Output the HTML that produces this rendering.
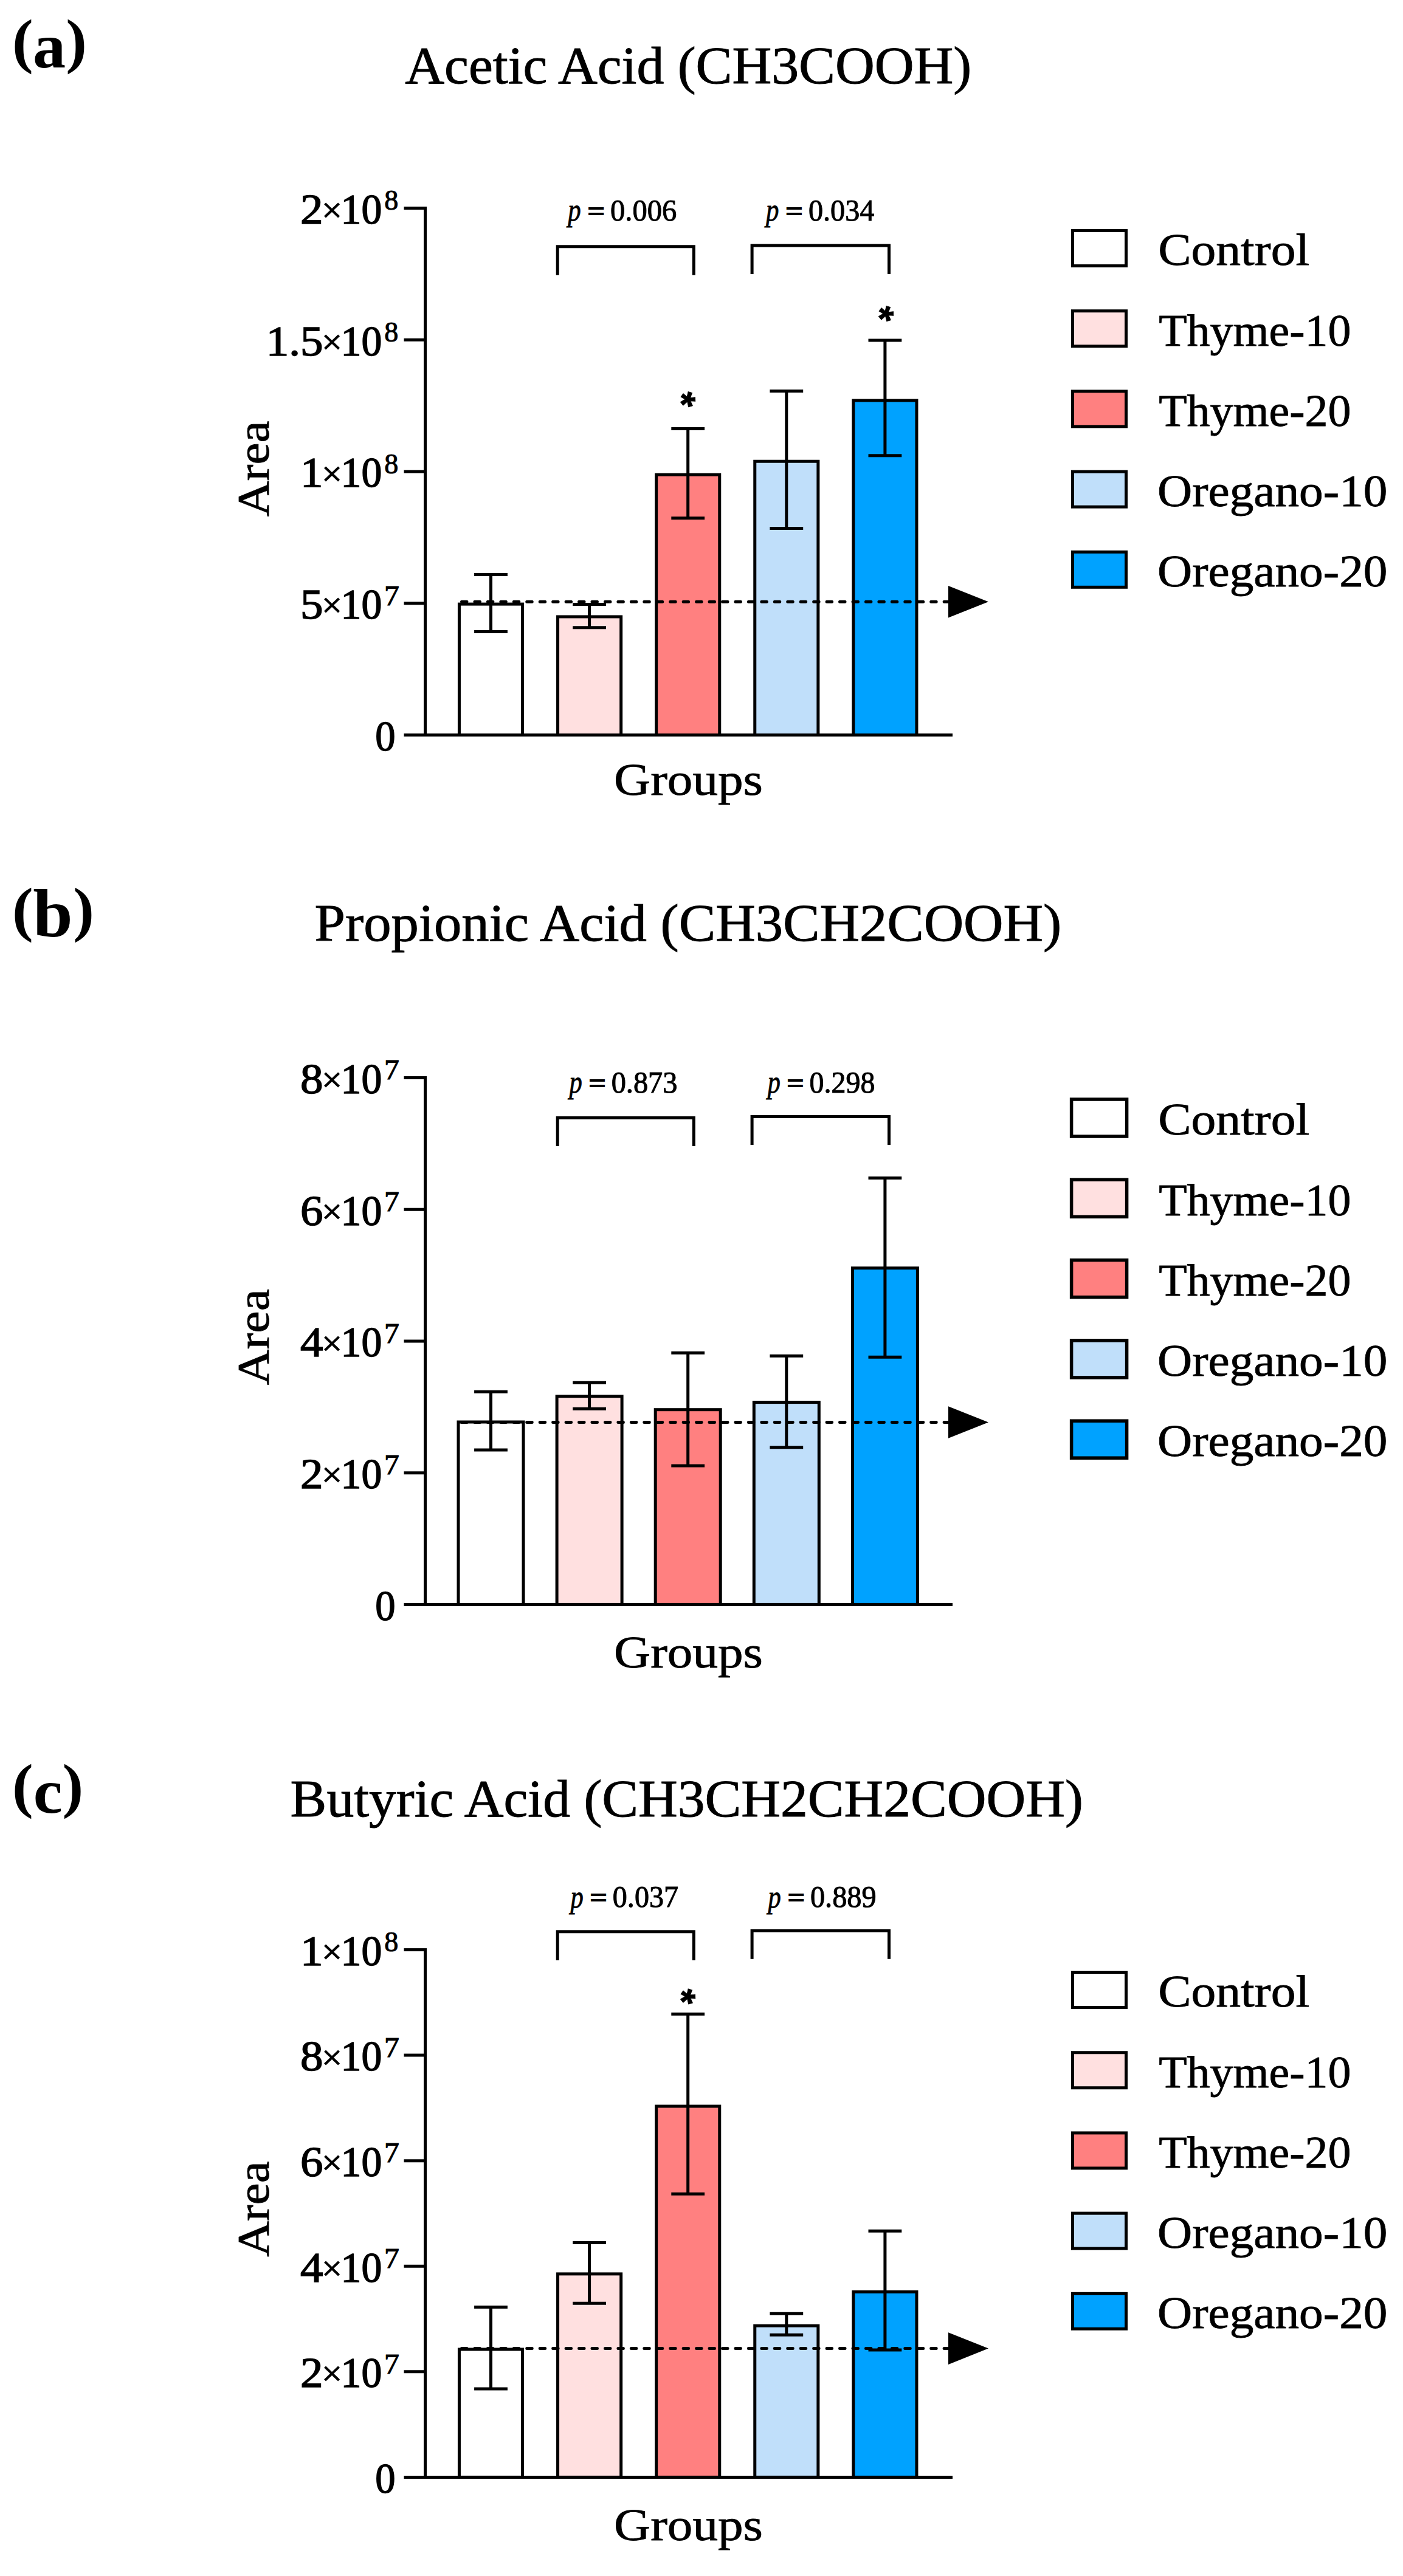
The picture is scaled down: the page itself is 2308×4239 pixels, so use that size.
<!DOCTYPE html>
<html lang="en"><head><meta charset="utf-8"><title>Short-chain fatty acids</title>
<style>html,body{margin:0;padding:0;background:#fff}svg{display:block}text{font-family:"Liberation Serif",serif;fill:#000}</style></head><body>
<svg width="2308" height="4239" viewBox="0 0 2308 4239" shape-rendering="geometricPrecision">
<rect width="2308" height="4239" fill="#fff"/>
<g>
<rect x="755.45" y="994.10" width="104.10" height="215.40" fill="#ffffff" stroke="#000" stroke-width="5"/>
<rect x="917.55" y="1014.90" width="104.10" height="194.60" fill="#ffe0e0" stroke="#000" stroke-width="5"/>
<rect x="1079.65" y="781.10" width="104.10" height="428.40" fill="#ff8080" stroke="#000" stroke-width="5"/>
<rect x="1241.75" y="759.20" width="104.10" height="450.30" fill="#c0dffa" stroke="#000" stroke-width="5"/>
<rect x="1403.85" y="659.00" width="104.10" height="550.50" fill="#00a2ff" stroke="#000" stroke-width="5"/>
<line x1="759.5" y1="990.20" x2="1562" y2="990.20" stroke="#000" stroke-width="5" stroke-dasharray="8.45 13" stroke-linecap="round"/>
<polygon points="1560,963.90 1626,990.20 1560,1016.50" fill="#000"/>
<path d="M780.10 945.60H834.90M780.10 1039.60H834.90M807.50 945.60V1039.60" stroke="#000" stroke-width="5" fill="none"/>
<path d="M942.20 994.40H997.00M942.20 1032.80H997.00M969.60 994.40V1032.80" stroke="#000" stroke-width="5" fill="none"/>
<path d="M1104.30 705.40H1159.10M1104.30 852.50H1159.10M1131.70 705.40V852.50" stroke="#000" stroke-width="5" fill="none"/>
<path d="M1266.40 643.40H1321.20M1266.40 869.50H1321.20M1293.80 643.40V869.50" stroke="#000" stroke-width="5" fill="none"/>
<path d="M1428.50 560.00H1483.30M1428.50 749.70H1483.30M1455.90 560.00V749.70" stroke="#000" stroke-width="5" fill="none"/>
<path d="M699.5 340.10V1212.00M664.5 1209.50H1567" stroke="#000" stroke-width="5" fill="none"/>
<text transform="translate(617.25,1234.80) scale(0.9650,1)" font-size="69" stroke="#000" stroke-width="1.5">0</text>
<line x1="664.5" y1="992.77" x2="699.5" y2="992.77" stroke="#000" stroke-width="5"/>
<text transform="translate(560.52,1018.07) scale(0.9822,1)" font-size="69" stroke="#000" stroke-width="1.5">10</text>
<text transform="translate(529.24,1015.38) scale(0.5951,0.5620)" font-size="100" stroke="#000" stroke-width="2.2">×</text>
<text transform="translate(493.96,1018.07) scale(1.0874,1)" font-size="69" stroke="#000" stroke-width="1.5">5</text>
<text transform="translate(632.06,995.57) scale(1.0830,1)" font-size="46" stroke="#000" stroke-width="1.0">7</text>
<line x1="664.5" y1="776.05" x2="699.5" y2="776.05" stroke="#000" stroke-width="5"/>
<text transform="translate(560.52,801.35) scale(0.9822,1)" font-size="69" stroke="#000" stroke-width="1.5">10</text>
<text transform="translate(529.24,798.66) scale(0.5951,0.5620)" font-size="100" stroke="#000" stroke-width="2.2">×</text>
<text transform="translate(493.96,801.35) scale(1.0874,1)" font-size="69" stroke="#000" stroke-width="1.5">1</text>
<text transform="translate(632.37,778.85) scale(1.0026,1)" font-size="46" stroke="#000" stroke-width="1.0">8</text>
<line x1="664.5" y1="559.33" x2="699.5" y2="559.33" stroke="#000" stroke-width="5"/>
<text transform="translate(560.52,584.62) scale(0.9822,1)" font-size="69" stroke="#000" stroke-width="1.5">10</text>
<text transform="translate(529.24,581.93) scale(0.5951,0.5620)" font-size="100" stroke="#000" stroke-width="2.2">×</text>
<text transform="translate(437.69,584.62) scale(1.0874,1)" font-size="69" stroke="#000" stroke-width="1.5">1.5</text>
<text transform="translate(632.37,562.12) scale(1.0026,1)" font-size="46" stroke="#000" stroke-width="1.0">8</text>
<line x1="664.5" y1="342.60" x2="699.5" y2="342.60" stroke="#000" stroke-width="5"/>
<text transform="translate(560.52,367.90) scale(0.9822,1)" font-size="69" stroke="#000" stroke-width="1.5">10</text>
<text transform="translate(529.24,365.21) scale(0.5951,0.5620)" font-size="100" stroke="#000" stroke-width="2.2">×</text>
<text transform="translate(493.96,367.90) scale(1.0874,1)" font-size="69" stroke="#000" stroke-width="1.5">2</text>
<text transform="translate(632.37,345.40) scale(1.0026,1)" font-size="46" stroke="#000" stroke-width="1.0">8</text>
<path d="M917.20 452.70V405.70H1141.30V452.70" stroke="#000" stroke-width="5" fill="none"/>
<path d="M1237.10 451.00V404.00H1462.50V451.00" stroke="#000" stroke-width="5" fill="none"/>
<text transform="translate(934.21,363.00) scale(0.8066,1)" font-size="53" font-style="italic" stroke="#000" stroke-width="0.9">p</text>
<text transform="translate(966.72,360.70) scale(1.1702,1)" font-size="42" stroke="#000" stroke-width="2.0">=</text>
<text transform="translate(1004.05,362.70) scale(0.9508,1)" font-size="51" stroke="#000" stroke-width="1.0">0.006</text>
<text transform="translate(1260.11,363.00) scale(0.8066,1)" font-size="53" font-style="italic" stroke="#000" stroke-width="0.9">p</text>
<text transform="translate(1292.62,360.70) scale(1.1702,1)" font-size="42" stroke="#000" stroke-width="2.0">=</text>
<text transform="translate(1329.96,362.70) scale(0.9444,1)" font-size="51" stroke="#000" stroke-width="1.0">0.034</text>
<text transform="translate(1131.80,656.90) rotate(17) scale(0.6389) translate(-19.50,50.12)" font-size="100" font-weight="bold" style="font-family:'Liberation Sans',sans-serif" stroke="#000" stroke-width="1.5">*</text>
<text transform="translate(1457.80,516.00) rotate(17) scale(0.6389) translate(-19.50,50.12)" font-size="100" font-weight="bold" style="font-family:'Liberation Sans',sans-serif" stroke="#000" stroke-width="1.5">*</text>
<text transform="translate(1010.08,1308.10) scale(1.1089,1)" font-size="75" stroke="#000" stroke-width="0.82">Groups</text>
<text transform="translate(441.90,850.00) rotate(-90) scale(1.0818,1)" font-size="75" stroke="#000" stroke-width="0.82">Area</text>
<text transform="translate(666.28,136.90) scale(1.0434,1)" font-size="86" stroke="#000" stroke-width="0.95">Acetic Acid (CH3COOH)</text>
<text transform="translate(0,100.76) scale(1.0408,0.9950)" font-size="100" font-weight="bold"><tspan x="19.29">(</tspan><tspan x="51.83" dy="10.50" font-size="104">a</tspan><tspan x="103.98" dy="-10.50">)</tspan></text>
<rect x="1764.50" y="379.50" width="88.00" height="58.00" fill="#ffffff" stroke="#000" stroke-width="5"/>
<text transform="translate(1905.15,436.30) scale(1.0866,1)" font-size="75" stroke="#000" stroke-width="0.82">Control</text>
<rect x="1764.50" y="511.70" width="88.00" height="58.00" fill="#ffe0e0" stroke="#000" stroke-width="5"/>
<text transform="translate(1906.18,568.50) scale(1.0124,1)" font-size="75" stroke="#000" stroke-width="0.82">Thyme-10</text>
<rect x="1764.50" y="643.90" width="88.00" height="58.00" fill="#ff8080" stroke="#000" stroke-width="5"/>
<text transform="translate(1906.18,700.70) scale(1.0124,1)" font-size="75" stroke="#000" stroke-width="0.82">Thyme-20</text>
<rect x="1764.50" y="776.10" width="88.00" height="58.00" fill="#c0dffa" stroke="#000" stroke-width="5"/>
<text transform="translate(1903.94,832.90) scale(1.0567,1)" font-size="75" stroke="#000" stroke-width="0.82">Oregano-10</text>
<rect x="1764.50" y="908.30" width="88.00" height="58.00" fill="#00a2ff" stroke="#000" stroke-width="5"/>
<text transform="translate(1903.94,965.10) scale(1.0567,1)" font-size="75" stroke="#000" stroke-width="0.82">Oregano-20</text>
</g>
<g>
<rect x="754.00" y="2340.00" width="107.00" height="300.40" fill="#ffffff" stroke="#000" stroke-width="5"/>
<rect x="916.10" y="2297.70" width="107.00" height="342.70" fill="#ffe0e0" stroke="#000" stroke-width="5"/>
<rect x="1078.20" y="2319.70" width="107.00" height="320.70" fill="#ff8080" stroke="#000" stroke-width="5"/>
<rect x="1240.30" y="2307.60" width="107.00" height="332.80" fill="#c0dffa" stroke="#000" stroke-width="5"/>
<rect x="1402.40" y="2086.70" width="107.00" height="553.70" fill="#00a2ff" stroke="#000" stroke-width="5"/>
<line x1="759.5" y1="2340.50" x2="1562" y2="2340.50" stroke="#000" stroke-width="5" stroke-dasharray="8.45 13" stroke-linecap="round"/>
<polygon points="1560,2314.20 1626,2340.50 1560,2366.80" fill="#000"/>
<path d="M780.10 2290.20H834.90M780.10 2386.00H834.90M807.50 2290.20V2386.00" stroke="#000" stroke-width="5" fill="none"/>
<path d="M942.20 2275.20H997.00M942.20 2318.20H997.00M969.60 2275.20V2318.20" stroke="#000" stroke-width="5" fill="none"/>
<path d="M1104.30 2226.30H1159.10M1104.30 2412.00H1159.10M1131.70 2226.30V2412.00" stroke="#000" stroke-width="5" fill="none"/>
<path d="M1266.40 2231.30H1321.20M1266.40 2381.80H1321.20M1293.80 2231.30V2381.80" stroke="#000" stroke-width="5" fill="none"/>
<path d="M1428.50 1938.50H1483.30M1428.50 2233.30H1483.30M1455.90 1938.50V2233.30" stroke="#000" stroke-width="5" fill="none"/>
<path d="M699.5 1771.00V2642.90M664.5 2640.40H1567" stroke="#000" stroke-width="5" fill="none"/>
<text transform="translate(617.25,2665.70) scale(0.9650,1)" font-size="69" stroke="#000" stroke-width="1.5">0</text>
<line x1="664.5" y1="2423.68" x2="699.5" y2="2423.68" stroke="#000" stroke-width="5"/>
<text transform="translate(560.52,2448.98) scale(0.9822,1)" font-size="69" stroke="#000" stroke-width="1.5">10</text>
<text transform="translate(529.24,2446.28) scale(0.5951,0.5620)" font-size="100" stroke="#000" stroke-width="2.2">×</text>
<text transform="translate(493.96,2448.98) scale(1.0874,1)" font-size="69" stroke="#000" stroke-width="1.5">2</text>
<text transform="translate(632.06,2426.48) scale(1.0830,1)" font-size="46" stroke="#000" stroke-width="1.0">7</text>
<line x1="664.5" y1="2206.95" x2="699.5" y2="2206.95" stroke="#000" stroke-width="5"/>
<text transform="translate(560.52,2232.25) scale(0.9822,1)" font-size="69" stroke="#000" stroke-width="1.5">10</text>
<text transform="translate(529.24,2229.56) scale(0.5951,0.5620)" font-size="100" stroke="#000" stroke-width="2.2">×</text>
<text transform="translate(493.96,2232.25) scale(1.0874,1)" font-size="69" stroke="#000" stroke-width="1.5">4</text>
<text transform="translate(632.06,2209.75) scale(1.0830,1)" font-size="46" stroke="#000" stroke-width="1.0">7</text>
<line x1="664.5" y1="1990.22" x2="699.5" y2="1990.22" stroke="#000" stroke-width="5"/>
<text transform="translate(560.52,2015.52) scale(0.9822,1)" font-size="69" stroke="#000" stroke-width="1.5">10</text>
<text transform="translate(529.24,2012.83) scale(0.5951,0.5620)" font-size="100" stroke="#000" stroke-width="2.2">×</text>
<text transform="translate(493.96,2015.52) scale(1.0874,1)" font-size="69" stroke="#000" stroke-width="1.5">6</text>
<text transform="translate(632.06,1993.02) scale(1.0830,1)" font-size="46" stroke="#000" stroke-width="1.0">7</text>
<line x1="664.5" y1="1773.50" x2="699.5" y2="1773.50" stroke="#000" stroke-width="5"/>
<text transform="translate(560.52,1798.80) scale(0.9822,1)" font-size="69" stroke="#000" stroke-width="1.5">10</text>
<text transform="translate(529.24,1796.11) scale(0.5951,0.5620)" font-size="100" stroke="#000" stroke-width="2.2">×</text>
<text transform="translate(493.96,1798.80) scale(1.0874,1)" font-size="69" stroke="#000" stroke-width="1.5">8</text>
<text transform="translate(632.06,1776.30) scale(1.0830,1)" font-size="46" stroke="#000" stroke-width="1.0">7</text>
<path d="M917.20 1886.10V1839.60H1141.30V1886.10" stroke="#000" stroke-width="5" fill="none"/>
<path d="M1237.10 1884.00V1837.40H1462.50V1884.00" stroke="#000" stroke-width="5" fill="none"/>
<text transform="translate(936.39,1798.20) scale(0.8002,1)" font-size="53" font-style="italic" stroke="#000" stroke-width="0.9">p</text>
<text transform="translate(968.66,1795.90) scale(1.1604,1)" font-size="42" stroke="#000" stroke-width="2.0">=</text>
<text transform="translate(1005.68,1797.90) scale(0.9478,1)" font-size="51" stroke="#000" stroke-width="1.0">0.873</text>
<text transform="translate(1262.67,1798.20) scale(0.7946,1)" font-size="53" font-style="italic" stroke="#000" stroke-width="0.9">p</text>
<text transform="translate(1294.73,1795.90) scale(1.1520,1)" font-size="42" stroke="#000" stroke-width="2.0">=</text>
<text transform="translate(1331.50,1797.90) scale(0.9403,1)" font-size="51" stroke="#000" stroke-width="1.0">0.298</text>
<text transform="translate(1010.08,2744.00) scale(1.1089,1)" font-size="75" stroke="#000" stroke-width="0.82">Groups</text>
<text transform="translate(441.90,2279.20) rotate(-90) scale(1.0839,1)" font-size="75" stroke="#000" stroke-width="0.82">Area</text>
<text transform="translate(517.58,1548.00) scale(1.0541,1)" font-size="86" stroke="#000" stroke-width="0.95">Propionic Acid (CH3CH2COOH)</text>
<text transform="translate(0,1529.76) scale(1.0408,0.9950)" font-size="100" font-weight="bold"><tspan x="19.29">(</tspan><tspan x="52.25" dy="11.30" font-size="113">b</tspan><tspan x="115.60" dy="-11.30">)</tspan></text>
<rect x="1762.60" y="1809.00" width="91.00" height="61.00" fill="#ffffff" stroke="#000" stroke-width="5.5"/>
<text transform="translate(1905.15,1867.20) scale(1.0866,1)" font-size="75" stroke="#000" stroke-width="0.82">Control</text>
<rect x="1762.60" y="1941.30" width="91.00" height="61.00" fill="#ffe0e0" stroke="#000" stroke-width="5.5"/>
<text transform="translate(1906.18,1999.50) scale(1.0124,1)" font-size="75" stroke="#000" stroke-width="0.82">Thyme-10</text>
<rect x="1762.60" y="2073.60" width="91.00" height="61.00" fill="#ff8080" stroke="#000" stroke-width="5.5"/>
<text transform="translate(1906.18,2131.80) scale(1.0124,1)" font-size="75" stroke="#000" stroke-width="0.82">Thyme-20</text>
<rect x="1762.60" y="2205.90" width="91.00" height="61.00" fill="#c0dffa" stroke="#000" stroke-width="5.5"/>
<text transform="translate(1903.94,2264.10) scale(1.0567,1)" font-size="75" stroke="#000" stroke-width="0.82">Oregano-10</text>
<rect x="1762.60" y="2338.20" width="91.00" height="61.00" fill="#00a2ff" stroke="#000" stroke-width="5.5"/>
<text transform="translate(1903.94,2396.40) scale(1.0567,1)" font-size="75" stroke="#000" stroke-width="0.82">Oregano-20</text>
</g>
<g>
<rect x="755.45" y="3866.00" width="104.10" height="210.40" fill="#ffffff" stroke="#000" stroke-width="5"/>
<rect x="917.55" y="3741.90" width="104.10" height="334.50" fill="#ffe0e0" stroke="#000" stroke-width="5"/>
<rect x="1079.65" y="3466.00" width="104.10" height="610.40" fill="#ff8080" stroke="#000" stroke-width="5"/>
<rect x="1241.75" y="3827.20" width="104.10" height="249.20" fill="#c0dffa" stroke="#000" stroke-width="5"/>
<rect x="1403.85" y="3771.50" width="104.10" height="304.90" fill="#00a2ff" stroke="#000" stroke-width="5"/>
<line x1="759.5" y1="3864.60" x2="1562" y2="3864.60" stroke="#000" stroke-width="5" stroke-dasharray="8.45 13" stroke-linecap="round"/>
<polygon points="1560,3838.30 1626,3864.60 1560,3890.90" fill="#000"/>
<path d="M780.10 3796.50H834.90M780.10 3930.90H834.90M807.50 3796.50V3930.90" stroke="#000" stroke-width="5" fill="none"/>
<path d="M942.20 3690.60H997.00M942.20 3790.30H997.00M969.60 3690.60V3790.30" stroke="#000" stroke-width="5" fill="none"/>
<path d="M1104.30 3314.30H1159.10M1104.30 3610.20H1159.10M1131.70 3314.30V3610.20" stroke="#000" stroke-width="5" fill="none"/>
<path d="M1266.40 3807.30H1321.20M1266.40 3842.20H1321.20M1293.80 3807.30V3842.20" stroke="#000" stroke-width="5" fill="none"/>
<path d="M1428.50 3671.20H1483.30M1428.50 3867.00H1483.30M1455.90 3671.20V3867.00" stroke="#000" stroke-width="5" fill="none"/>
<path d="M699.5 3206.00V4078.90M664.5 4076.40H1567" stroke="#000" stroke-width="5" fill="none"/>
<text transform="translate(617.25,4101.70) scale(0.9650,1)" font-size="69" stroke="#000" stroke-width="1.5">0</text>
<line x1="664.5" y1="3902.82" x2="699.5" y2="3902.82" stroke="#000" stroke-width="5"/>
<text transform="translate(560.52,3928.12) scale(0.9822,1)" font-size="69" stroke="#000" stroke-width="1.5">10</text>
<text transform="translate(529.24,3925.43) scale(0.5951,0.5620)" font-size="100" stroke="#000" stroke-width="2.2">×</text>
<text transform="translate(493.96,3928.12) scale(1.0874,1)" font-size="69" stroke="#000" stroke-width="1.5">2</text>
<text transform="translate(632.06,3905.62) scale(1.0830,1)" font-size="46" stroke="#000" stroke-width="1.0">7</text>
<line x1="664.5" y1="3729.24" x2="699.5" y2="3729.24" stroke="#000" stroke-width="5"/>
<text transform="translate(560.52,3754.54) scale(0.9822,1)" font-size="69" stroke="#000" stroke-width="1.5">10</text>
<text transform="translate(529.24,3751.85) scale(0.5951,0.5620)" font-size="100" stroke="#000" stroke-width="2.2">×</text>
<text transform="translate(493.96,3754.54) scale(1.0874,1)" font-size="69" stroke="#000" stroke-width="1.5">4</text>
<text transform="translate(632.06,3732.04) scale(1.0830,1)" font-size="46" stroke="#000" stroke-width="1.0">7</text>
<line x1="664.5" y1="3555.66" x2="699.5" y2="3555.66" stroke="#000" stroke-width="5"/>
<text transform="translate(560.52,3580.96) scale(0.9822,1)" font-size="69" stroke="#000" stroke-width="1.5">10</text>
<text transform="translate(529.24,3578.27) scale(0.5951,0.5620)" font-size="100" stroke="#000" stroke-width="2.2">×</text>
<text transform="translate(493.96,3580.96) scale(1.0874,1)" font-size="69" stroke="#000" stroke-width="1.5">6</text>
<text transform="translate(632.06,3558.46) scale(1.0830,1)" font-size="46" stroke="#000" stroke-width="1.0">7</text>
<line x1="664.5" y1="3382.08" x2="699.5" y2="3382.08" stroke="#000" stroke-width="5"/>
<text transform="translate(560.52,3407.38) scale(0.9822,1)" font-size="69" stroke="#000" stroke-width="1.5">10</text>
<text transform="translate(529.24,3404.69) scale(0.5951,0.5620)" font-size="100" stroke="#000" stroke-width="2.2">×</text>
<text transform="translate(493.96,3407.38) scale(1.0874,1)" font-size="69" stroke="#000" stroke-width="1.5">8</text>
<text transform="translate(632.06,3384.88) scale(1.0830,1)" font-size="46" stroke="#000" stroke-width="1.0">7</text>
<line x1="664.5" y1="3208.50" x2="699.5" y2="3208.50" stroke="#000" stroke-width="5"/>
<text transform="translate(560.52,3233.80) scale(0.9822,1)" font-size="69" stroke="#000" stroke-width="1.5">10</text>
<text transform="translate(529.24,3231.11) scale(0.5951,0.5620)" font-size="100" stroke="#000" stroke-width="2.2">×</text>
<text transform="translate(493.96,3233.80) scale(1.0874,1)" font-size="69" stroke="#000" stroke-width="1.5">1</text>
<text transform="translate(632.37,3211.30) scale(1.0026,1)" font-size="46" stroke="#000" stroke-width="1.0">8</text>
<path d="M917.20 3225.40V3178.80H1141.30V3225.40" stroke="#000" stroke-width="5" fill="none"/>
<path d="M1237.10 3223.70V3177.10H1462.50V3223.70" stroke="#000" stroke-width="5" fill="none"/>
<text transform="translate(938.49,3138.70) scale(0.8006,1)" font-size="53" font-style="italic" stroke="#000" stroke-width="0.9">p</text>
<text transform="translate(970.78,3136.40) scale(1.1611,1)" font-size="42" stroke="#000" stroke-width="2.0">=</text>
<text transform="translate(1007.83,3138.40) scale(0.9429,1)" font-size="51" stroke="#000" stroke-width="1.0">0.037</text>
<text transform="translate(1263.59,3138.70) scale(0.8006,1)" font-size="53" font-style="italic" stroke="#000" stroke-width="0.9">p</text>
<text transform="translate(1295.88,3136.40) scale(1.1611,1)" font-size="42" stroke="#000" stroke-width="2.0">=</text>
<text transform="translate(1332.92,3138.40) scale(0.9483,1)" font-size="51" stroke="#000" stroke-width="1.0">0.889</text>
<text transform="translate(1131.80,3285.20) rotate(17) scale(0.6389) translate(-19.50,50.12)" font-size="100" font-weight="bold" style="font-family:'Liberation Sans',sans-serif" stroke="#000" stroke-width="1.5">*</text>
<text transform="translate(1010.08,4180.00) scale(1.1089,1)" font-size="75" stroke="#000" stroke-width="0.82">Groups</text>
<text transform="translate(441.90,3713.80) rotate(-90) scale(1.0811,1)" font-size="75" stroke="#000" stroke-width="0.82">Area</text>
<text transform="translate(477.61,2989.40) scale(1.0421,1)" font-size="86" stroke="#000" stroke-width="0.95">Butyric Acid (CH3CH2CH2COOH)</text>
<text transform="translate(0,2971.57) scale(1.0408,0.9895)" font-size="100" font-weight="bold"><tspan x="19.29">(</tspan><tspan x="52.68" dy="11.75" font-size="104">c</tspan><tspan x="98.40" dy="-11.75">)</tspan></text>
<rect x="1764.50" y="3245.50" width="88.00" height="58.00" fill="#ffffff" stroke="#000" stroke-width="5"/>
<text transform="translate(1905.15,3302.40) scale(1.0866,1)" font-size="75" stroke="#000" stroke-width="0.82">Control</text>
<rect x="1764.50" y="3377.70" width="88.00" height="58.00" fill="#ffe0e0" stroke="#000" stroke-width="5"/>
<text transform="translate(1906.18,3434.60) scale(1.0124,1)" font-size="75" stroke="#000" stroke-width="0.82">Thyme-10</text>
<rect x="1764.50" y="3509.90" width="88.00" height="58.00" fill="#ff8080" stroke="#000" stroke-width="5"/>
<text transform="translate(1906.18,3566.80) scale(1.0124,1)" font-size="75" stroke="#000" stroke-width="0.82">Thyme-20</text>
<rect x="1764.50" y="3642.10" width="88.00" height="58.00" fill="#c0dffa" stroke="#000" stroke-width="5"/>
<text transform="translate(1903.94,3699.00) scale(1.0567,1)" font-size="75" stroke="#000" stroke-width="0.82">Oregano-10</text>
<rect x="1764.50" y="3774.30" width="88.00" height="58.00" fill="#00a2ff" stroke="#000" stroke-width="5"/>
<text transform="translate(1903.94,3831.20) scale(1.0567,1)" font-size="75" stroke="#000" stroke-width="0.82">Oregano-20</text>
</g>
</svg></body></html>
